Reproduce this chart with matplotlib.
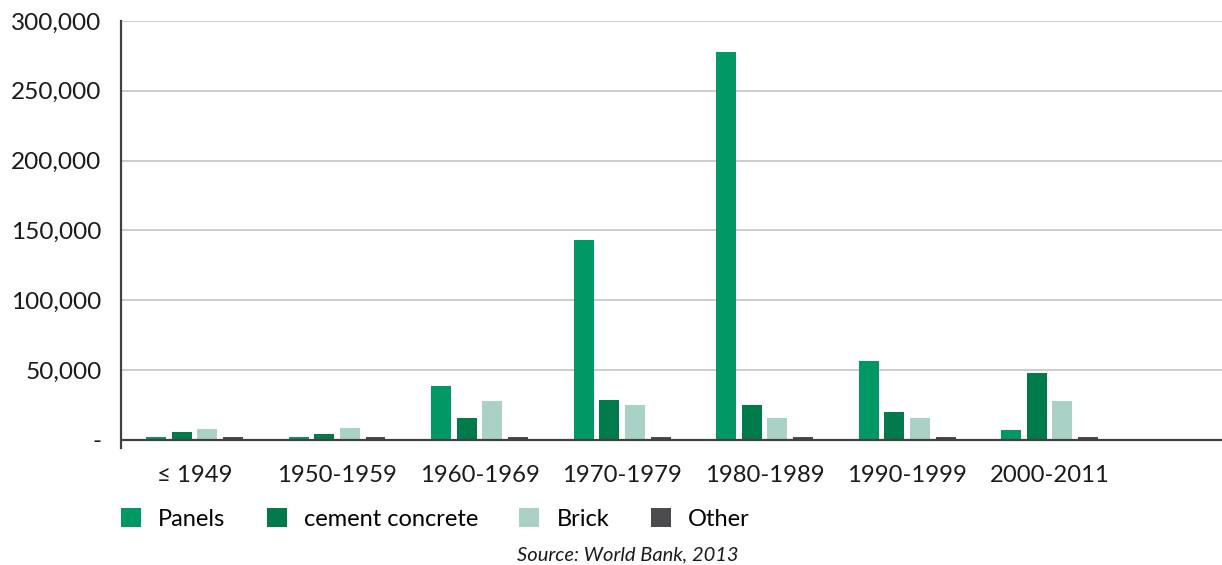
import matplotlib
matplotlib.use("Agg")
import matplotlib.pyplot as plt
from matplotlib.patches import Patch
from matplotlib.ticker import FuncFormatter
import numpy as np

plt.rcParams['font.family'] = ['Lato', 'DejaVu Sans']

# Housing stock by construction period and wall material
periods = ["≤ 1949", "1950-1959", "1960-1969", "1970-1979", "1980-1989", "1990-1999", "2000-2011"]
series_names = ["Panels", "cement concrete", "Brick", "Other"]
panels = [2000, 2000, 39000, 143500, 277500, 56800, 7200]
cement_concrete = [6000, 4500, 15800, 28800, 25000, 20000, 48000]
brick = [8000, 8600, 28000, 25000, 15800, 15800, 28000]
other = [2000, 2000, 2000, 2000, 2000, 2000, 2000]
colors = ["#009966", "#007A4A", "#A9D1C5", "#4B4B4D"]
y_ticks = [0, 50000, 100000, 150000, 200000, 250000, 300000]

values = [panels, cement_concrete, brick, other]

fig = plt.figure(figsize=(12.22, 5.65), dpi=100)
ax = fig.add_axes([121 / 1222, (565 - 448) / 565, (1222 - 121) / 1222, (448 - 21) / 565])

x = np.arange(len(periods))
step = 0.18
width = 0.14
for i, (vals, col) in enumerate(zip(values, colors)):
    ax.bar(x + (i - 1.5) * step, vals, width=width, color=col, zorder=3)

ax.set_xlim(-0.516, 7.21)
ax.set_ylim(-5730, 300000)
ax.set_yticks(y_ticks)
ax.yaxis.set_major_formatter(FuncFormatter(lambda v, p: "-" if v == 0 else f"{int(v):,}"))
ax.set_xticks(x)
ax.set_xticklabels(periods)

for yv in y_ticks[1:]:
    ax.axhline(yv, color="#BFBFBF", lw=1.1, zorder=1)
ax.axhline(0, color="#404040", lw=1.6, zorder=4)

for s in ["top", "right", "bottom"]:
    ax.spines[s].set_visible(False)
ax.spines["left"].set_color("#404040")
ax.spines["left"].set_linewidth(1.6)

ax.tick_params(axis="y", length=0, pad=14, labelsize=17.6, colors="#1a1a1a")
ax.tick_params(axis="x", length=0, pad=12, labelsize=17.2, colors="#1a1a1a")

handles = [Patch(facecolor=c, edgecolor="none") for c in colors]
fig.legend(handles, series_names, loc="center left", bbox_to_anchor=(121 / 1222, 1 - 519 / 565),
           ncol=4, frameon=False, fontsize=17, handlelength=0.85, handleheight=0.85,
           handletextpad=0.72, columnspacing=1.75, borderpad=0, borderaxespad=0)

fig.text(628 / 1222, 1 - 555 / 565, "Source: World Bank, 2013", ha="center", va="center",
         fontsize=14.5, style="italic", color="#1a1a1a")

fig.savefig("out.png", dpi=100)
